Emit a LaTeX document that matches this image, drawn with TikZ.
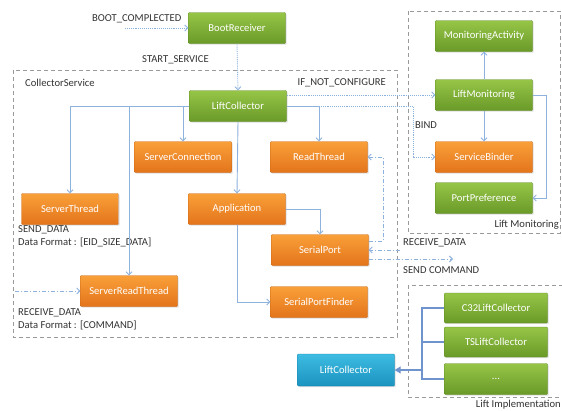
\documentclass[tikz,border=0pt]{standalone}
\usepackage{fontspec}
\setmainfont{Carlito}
\usetikzlibrary{arrows.meta,shadows}
\definecolor{gtop}{HTML}{96C547}
\definecolor{gbot}{HTML}{6A9A28}
\definecolor{otop}{HTML}{F9A03A}
\definecolor{obot}{HTML}{E3741A}
\definecolor{btop}{HTML}{3EBCE2}
\definecolor{bbot}{HTML}{1B93C0}
\definecolor{lineblue}{HTML}{8EB2DE}
\definecolor{darkblue}{HTML}{4A78C0}
\definecolor{framegray}{HTML}{9A9A9A}
\definecolor{txt}{HTML}{333333}
\tikzset{
  box/.style={rectangle, minimum width=97pt, minimum height=31pt, inner sep=1pt,
    text=white, font=\fontsize{10.6}{12}\selectfont, rounded corners=0.8pt,
    drop shadow={opacity=0.25, shadow xshift=1.2pt, shadow yshift=-1.2pt}},
  gbox/.style={box, top color=gtop, bottom color=gbot, draw=gbot!90!black, line width=0.3pt},
  obox/.style={box, top color=otop, bottom color=obot, draw=obot!90!black, line width=0.3pt},
  bbox/.style={box, top color=btop, bottom color=bbot, draw=bbot!90!black, line width=0.3pt},
  conn/.style={draw=lineblue, line width=0.9pt, -{Straight Barb[length=3pt,width=6pt]}},
  dotconn/.style={draw=lineblue, line width=0.9pt, densely dotted, -{Straight Barb[length=3pt,width=6pt]}},
  dashconn/.style={draw=lineblue, line width=0.9pt, dash pattern=on 4pt off 2pt on 1pt off 2pt, -{Straight Barb[length=3pt,width=6pt]}},
  impl/.style={draw=darkblue!80, line width=1.1pt},
  frame/.style={draw=framegray, line width=0.7pt, dash pattern=on 4pt off 3pt},
  lbl/.style={text=txt, font=\fontsize{10.6}{13}\selectfont, inner sep=0pt},
}
\begin{document}
\begin{tikzpicture}[x=1pt,y=-1pt]
\useasboundingbox (0,0) rectangle (562,410);
\fill[white] (0,0) rectangle (562,410);

% frames
\draw[frame] (13,70) rectangle (397,337);
\node[lbl, anchor=west] (csl) at (25,83) {CollectorService};
\draw[frame] (408,11) rectangle (560,233);
\node[lbl, anchor=south east] (lml) at (559,230) {Lift Monitoring};
\draw[frame] (408,285) rectangle (566,397);
\node[lbl, anchor=east] (lil) at (561,404.5) {Lift Implementation};

% nodes
\node[gbox] (boot) at (237,28) {BootReceiver};
\node[gbox] (lc) at (238,106) {LiftCollector};
\node[obox] (sconn) at (183,157) {ServerConnection};
\node[obox] (rt) at (319,157) {ReadThread};
\node[obox] (sthread) at (70,209) {ServerThread};
\node[obox] (app) at (237,209) {Application};
\node[obox] (sp) at (320,250) {SerialPort};
\node[obox] (srt) at (129,291) {ServerReadThread};
\node[obox] (spf) at (319,302) {SerialPortFinder};

\node[gbox] (ma) at (484,36) {MonitoringActivity};
\node[gbox] (lm) at (484,95) {LiftMonitoring};
\node[obox] (sb) at (484,157) {ServiceBinder};
\node[gbox] (pp) at (484,198) {PortPreference};

\node[gbox, minimum width=103pt, minimum height=30pt] (c32) at (496,308) {C32LiftCollector};
\node[gbox, minimum width=103pt, minimum height=30pt] (ts) at (496,342) {TSLiftCollector};
\node[gbox, minimum width=103pt, minimum height=31pt] (dots) at (496,379) {...};
\node[bbox, minimum height=32pt] (blc) at (346,370) {LiftCollector};

% labels
\node[lbl, anchor=west] (bcl) at (92,19) {BOOT\_COMPLECTED};
\node[lbl, anchor=west] (ssl) at (142,60) {START\_SERVICE};
\node[lbl, anchor=east] (ifl) at (386,83) {IF\_NOT\_CONFIGURE};
\node[lbl, anchor=west] (bindl) at (415,125) {BIND};
\node[lbl, anchor=west] (rdl) at (403,243) {RECEIVE\_DATA};
\node[lbl, anchor=west] (scl) at (403,270) {SEND COMMAND};
\node[lbl, anchor=north west, align=left] (sdl) at (18,225) {SEND\_DATA\\Data Format : [EID\_SIZE\_DATA]};
\node[lbl, anchor=north west, align=left] (rdl2) at (18,308) {RECEIVE\_DATA\\Data Format : [COMMAND]};

% connectors
\coordinate (bcin) at (125,28);
\draw[dotconn] (bcin) -- (boot.west);
\draw[dotconn] (boot.south) -- (lc.north);

\draw[conn] (lc.west) -| (sthread.north);
\draw[conn] (lc.west) -| (srt.north);
\draw[conn] (lc.west) -| (sconn.north);
\draw[conn] (lc.east) -| (rt.north);
\draw[conn] (lc.south) -- (app.north);
\draw[conn] (app.south) |- (spf.west);
\draw[conn] (app.east) -| (sp.north);

\draw[dotconn] ([yshift=11pt]lc.east) -- (lm.west);
\draw[dotconn] (lc.east) -- (413,106) |- (sb.west);

\draw[conn] (lm.north) -- (ma.south);
\draw[conn] (lm.south) -- (sb.north);
\draw[conn] (lm.east) -- (546,95) |- (pp.east);

\draw[dashconn] ([yshift=9pt]sp.east) -- (383,241) |- (rt.east);
\coordinate (rdin) at (400,250);
\draw[dashconn] (rdin) -- (sp.east);
\coordinate (scout) at (453,259);
\draw[dashconn] ([yshift=-9pt]sp.east) -- (scout);
\coordinate (srtin) at (15,291);
\draw[dashconn] (srtin) -- (srt.west);

\coordinate (bus) at (422,370);
\draw[impl] (c32.west) -| (bus);
\draw[impl] (ts.west) -| (bus);
\draw[impl] (dots.west) -| (bus);
\draw[impl, -{Triangle[length=6pt,width=7pt]}] (bus) -- (blc.east);
\end{tikzpicture}
\end{document}
